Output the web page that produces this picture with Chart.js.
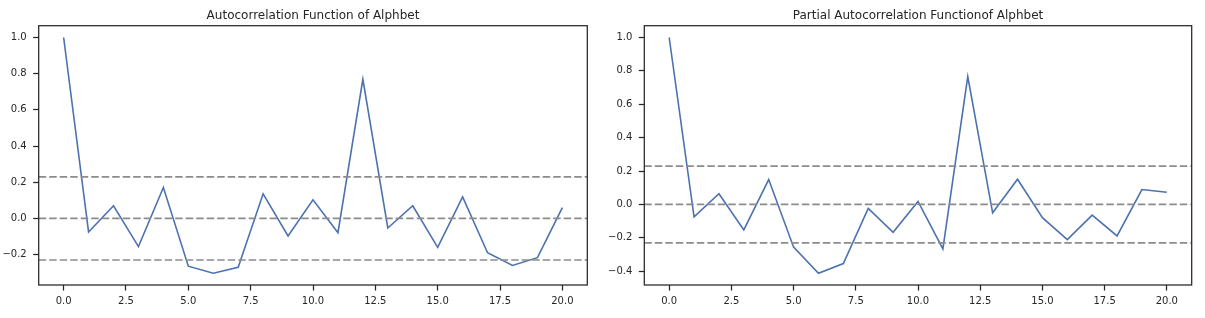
<!DOCTYPE html>
<html><head><meta charset="utf-8">
<script src="https://cdn.jsdelivr.net/npm/chart.js@4.4.1/dist/chart.umd.min.js"></script>
<style>
html,body{margin:0;padding:0;background:#fff;}
#wrap{position:relative;width:1205px;height:318px;background:#fff;}
#c1{position:absolute;left:0;top:0;}
#c2{position:absolute;left:600px;top:0;}
</style></head><body>
<div id="wrap">
<canvas id="c1" width="600" height="318"></canvas>
<canvas id="c2" width="605" height="318"></canvas>
</div>
<script>
// ---- data ----
const lags = [0,1,2,3,4,5,6,7,8,9,10,11,12,13,14,15,16,17,18,19,20];
const acfValues  = [1.0,-0.075,0.07,-0.156,0.171,-0.264,-0.303,-0.27,0.136,-0.097,0.103,-0.079,0.769,-0.053,0.07,-0.16,0.119,-0.19,-0.26,-0.217,0.06];
const pacfValues = [1.0,-0.075,0.064,-0.153,0.149,-0.256,-0.412,-0.354,-0.024,-0.167,0.018,-0.266,0.766,-0.05,0.151,-0.079,-0.211,-0.064,-0.189,0.089,0.073];
const confLevels = [0.23, 0, -0.23];
const xTicks = [0,2.5,5,7.5,10,12.5,15,17.5,20];
const acfYTicks = [-0.2,0,0.2,0.4,0.6,0.8,1.0];
const pacfYTicks = [-0.4,-0.2,0,0.2,0.4,0.6,0.8,1.0];
const titles = ['Autocorrelation Function of Alphbet','Partial Autocorrelation Functionof Alphbet'];

const TXT = '#262626';
const FAMILY = '"DejaVu Sans", "Liberation Sans", Arial, sans-serif';
Chart.defaults.font.family = FAMILY;
Chart.defaults.font.size = 10;
Chart.defaults.color = TXT;

function fmt(v){ const s = Math.abs(v).toFixed(1); return (v < -1e-9 ? '\u2212' : '') + s; }

function range(vals){
  const mn = Math.min(...vals), mx = Math.max(...vals), m = (mx-mn)*0.05;
  return [mn-m, mx+m];
}

const framePlugin = {
  id:'frame',
  afterDraw(chart, args, opts){
    const {ctx, chartArea:a} = chart;
    ctx.save();
    ctx.strokeStyle = TXT; ctx.lineWidth = 1.25;
    ctx.strokeRect(a.left, a.top, a.right-a.left, a.bottom-a.top);
    ctx.font = '12px ' + FAMILY;
    ctx.fillStyle = TXT; ctx.textAlign = 'center'; ctx.textBaseline = 'alphabetic';
    ctx.fillText(opts.text, (a.left+a.right)/2, 19);
    ctx.restore();
  }
};

function makeChart(id, values, yTicks, title, yWidth, padRight){
  const span = lags[lags.length-1]-lags[0];
  const xr = [lags[0]-span*0.05, lags[lags.length-1]+span*0.05];
  const yr = range(values);
  const datasets = [{
    data: lags.map((l,i)=>({x:l, y:values[i]})),
    borderColor:'#4c72b0', borderWidth:1.6, pointRadius:0, tension:0, order:2
  }];
  confLevels.forEach(c=>{
    datasets.push({
      data:[{x:xr[0],y:c},{x:xr[1],y:c}],
      borderColor:'#8c8c8c', borderWidth:1.7, borderDash:[7.5,3], pointRadius:0, order:1
    });
  });
  return new Chart(document.getElementById(id), {
    type:'line',
    data:{datasets},
    options:{
      responsive:false, animation:false, devicePixelRatio:1,
      layout:{padding:{top:25.7, right:padRight, left:0, bottom:0}},
      plugins:{legend:{display:false}, tooltip:{enabled:false}, frame:{text:title}},
      scales:{
        x:{type:'linear', min:xr[0], max:xr[1],
           afterBuildTicks:s=>{s.ticks = xTicks.map(v=>({value:v}));},
           afterFit:s=>{s.height = 33;},
           ticks:{callback:v=>fmt(v), padding:4.5, color:TXT, maxRotation:0, autoSkip:false},
           grid:{drawOnChartArea:false, drawTicks:true, tickLength:5.5, tickWidth:1.25, tickColor:TXT, color:TXT},
           border:{display:false}},
        y:{type:'linear', min:yr[0], max:yr[1],
           afterBuildTicks:s=>{s.ticks = yTicks.map(v=>({value:v}));},
           afterFit:s=>{s.width = yWidth;},
           ticks:{callback:v=>fmt(v), padding:6.5, color:TXT, autoSkip:false},
           grid:{drawOnChartArea:false, drawTicks:true, tickLength:5.5, tickWidth:1.25, tickColor:TXT, color:TXT},
           border:{display:false}}
      }
    },
    plugins:[framePlugin]
  });
}

makeChart('c1', acfValues, acfYTicks, titles[0], 38.7, 12.7);
makeChart('c2', pacfValues, pacfYTicks, titles[1], 44.3, 13.3);
</script>
</body></html>
